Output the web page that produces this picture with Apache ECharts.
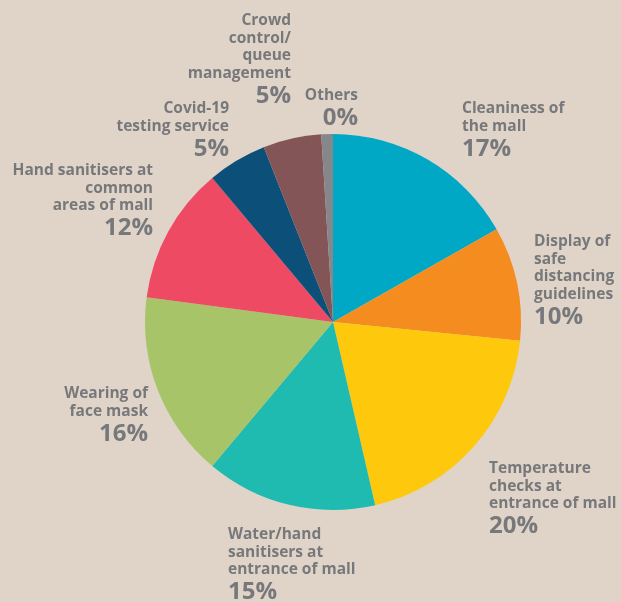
<!DOCTYPE html>
<html>
<head>
<meta charset="utf-8">
<script src="https://cdn.jsdelivr.net/npm/echarts@6/dist/echarts.min.js"></script>
<style>
html,body{margin:0;padding:0;background:#e0d4c9;}
#c{width:621px;height:602px;}
</style>
</head>
<body>
<div id="c"></div>
<script>
var categories = [
  "Cleaniness of\nthe mall",
  "Display of\nsafe\ndistancing\nguidelines",
  "Temperature\nchecks at\nentrance of mall",
  "Water/hand\nsanitisers at\nentrance of mall",
  "Wearing of\nface mask",
  "Hand sanitisers at\ncommon\nareas of mall",
  "Covid-19\ntesting service",
  "Crowd\ncontrol/\nqueue\nmanagement",
  "Others"
];
var sliceShares = [16.8, 9.8, 19.8, 14.7, 16.0, 11.8, 5.1, 5.0, 1.0];
var displayPct = ["17%", "10%", "20%", "15%", "16%", "12%", "5%", "5%", "0%"];
var colors = ["#00a8c6", "#f48c1f", "#fec80c", "#1fbbb1", "#a7c468", "#ef4a64", "#0c5079", "#845557", "#85878a"];

// label anchor positions (layout, not data)
var labelPos = [
  [462, 100, 'left'], [534, 233, 'left'], [489, 460, 'left'], [228, 526, 'left'],
  [148, 385, 'right'], [153, 162, 'right'], [229, 100, 'right'], [291, 12, 'right'], [358, 87, 'right']
];

var chart = echarts.init(document.getElementById('c'));
var data = categories.map(function (c, i) {
  return { name: c, value: sliceShares[i], itemStyle: { color: colors[i] },
    label: { align: labelPos[i][2] } };
});
var FONT = 'Open Sans';
chart.setOption({
  backgroundColor: '#e0d4c9',
  animation: false,
  series: [{
    type: 'pie',
    center: [333, 322],
    radius: 188,
    startAngle: 90,
    clockwise: true,
    data: data,
    itemStyle: { borderWidth: 0 },
    labelLine: { show: false },
    label: {
      show: true,
      position: 'outside',
      overflow: 'none',
      width: 300,
      bleedMargin: 0,
      color: '#75767a',
      fontFamily: FONT,
      formatter: function (p) {
        return '{t|' + p.name.split('\n').join('}\n{t|') + '}\n{p|' + displayPct[p.dataIndex] + '}';
      },
      rich: {
        t: { fontSize: 15.5, fontWeight: 'bold', lineHeight: 17.5, color: '#77787b', fontFamily: FONT },
        p: { fontSize: 24, fontWeight: 'bold', lineHeight: 28, color: '#77787b', fontFamily: FONT }
      }
    },
    labelLayout: function (params) {
      var lp = labelPos[params.dataIndex];
      return { x: lp[0], y: lp[1], align: lp[2], verticalAlign: 'top' };
    }
  }]
});
</script>
</body>
</html>
